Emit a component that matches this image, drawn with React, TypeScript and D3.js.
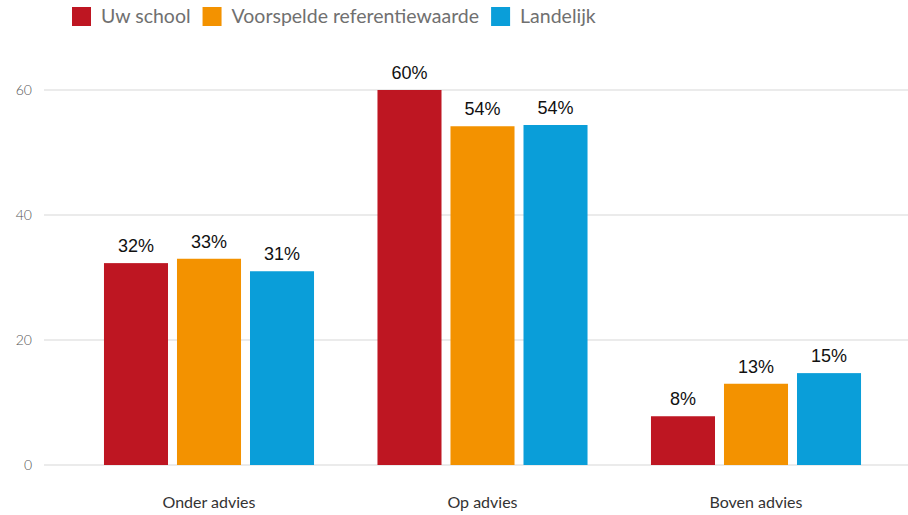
import React, { useRef, useEffect } from "react";
import * as d3 from "d3";

const categories = ["Onder advies", "Op advies", "Boven advies"];
const seriesNames = ["Uw school", "Voorspelde referentiewaarde", "Landelijk"];
const seriesColors = ["#be1622", "#f39200", "#0a9ed9"];
const uwSchool = [32.3, 60, 7.8];
const voorspeld = [33.0, 54.2, 13.0];
const landelijk = [31.0, 54.4, 14.7];
const yTicks = [0, 20, 40, 60];

const allValues = [uwSchool, voorspeld, landelijk];

export default function App() {
  const svgRef = useRef<SVGSVGElement>(null);
  const width = 908;
  const height = 515;

  useEffect(() => {
    const svg = d3.select(svgRef.current);
    svg.selectAll("*").remove();

    const y = d3.scaleLinear().domain([0, 60]).range([465, 90]);
    const x0 = d3
      .scaleBand()
      .domain(categories)
      .range([72.25, 892.75])
      .paddingInner(0.232)
      .paddingOuter(0.116);
    const x1 = d3
      .scaleBand()
      .domain(seriesNames)
      .range([0, x0.bandwidth()])
      .paddingInner(0.123);

    // gridlines
    svg
      .append("g")
      .selectAll("line")
      .data(yTicks)
      .enter()
      .append("line")
      .attr("x1", 44)
      .attr("x2", 908)
      .attr("y1", (d) => y(d))
      .attr("y2", (d) => y(d))
      .style("stroke", "#ebebeb")
      .style("stroke-width", 2);

    // y tick labels
    svg
      .append("g")
      .selectAll("text")
      .data(yTicks)
      .enter()
      .append("text")
      .attr("x", 32)
      .attr("y", (d) => y(d))
      .attr("dy", "0.35em")
      .attr("text-anchor", "end")
      .style("font-family", "Lato")
      .style("font-weight", 300)
      .style("font-size", "14px")
      .style("fill", "#555")
      .text((d) => d);

    // bars
    const groups = svg
      .append("g")
      .selectAll("g")
      .data(categories)
      .enter()
      .append("g")
      .attr("transform", (d) => `translate(${x0(d)},0)`);

    groups
      .selectAll("rect")
      .data((_, i) => seriesNames.map((s, j) => ({ s, j, v: allValues[j][i] })))
      .enter()
      .append("rect")
      .attr("x", (d) => x1(d.s)!)
      .attr("y", (d) => y(d.v))
      .attr("width", x1.bandwidth())
      .attr("height", (d) => y(0) - y(d.v))
      .style("fill", (d) => seriesColors[d.j]);

    groups
      .selectAll("text")
      .data((_, i) => seriesNames.map((s, j) => ({ s, j, v: allValues[j][i] })))
      .enter()
      .append("text")
      .attr("x", (d) => x1(d.s)! + x1.bandwidth() / 2)
      .attr("y", (d) => y(d.v) - 11)
      .attr("text-anchor", "middle")
      .style("font-family", "Liberation Sans, Arial")
      .style("font-size", "18px")
      .style("fill", "#111")
      .text((d) => `${Math.round(d.v)}%`);

    // category labels
    svg
      .append("g")
      .selectAll("text")
      .data(categories)
      .enter()
      .append("text")
      .attr("x", (d) => x0(d)! + x0.bandwidth() / 2)
      .attr("y", 508)
      .attr("text-anchor", "middle")
      .style("font-family", "Lato")
      .style("font-size", "16px")
      .style("fill", "#333")
      .text((d) => d);

    // legend
    const legend = svg.append("g");
    let lx = 72;
    seriesNames.forEach((name, i) => {
      legend
        .append("rect")
        .attr("x", lx)
        .attr("y", 7)
        .attr("width", 19)
        .attr("height", 19)
        .style("fill", seriesColors[i]);
      const t = legend
        .append("text")
        .attr("x", lx + 29)
        .attr("y", 23)
        .style("font-family", "Lato")
        .style("font-size", "19.5px")
        .style("fill", "#707070")
        .text(name);
      const w = (t.node() as SVGTextElement).getComputedTextLength();
      lx += 29 + w + 12;
    });
  }, []);

  return (
    <svg
      ref={svgRef}
      width={width}
      height={height}
      style={{ position: "absolute", left: 0, top: 0 }}
    ></svg>
  );
}
